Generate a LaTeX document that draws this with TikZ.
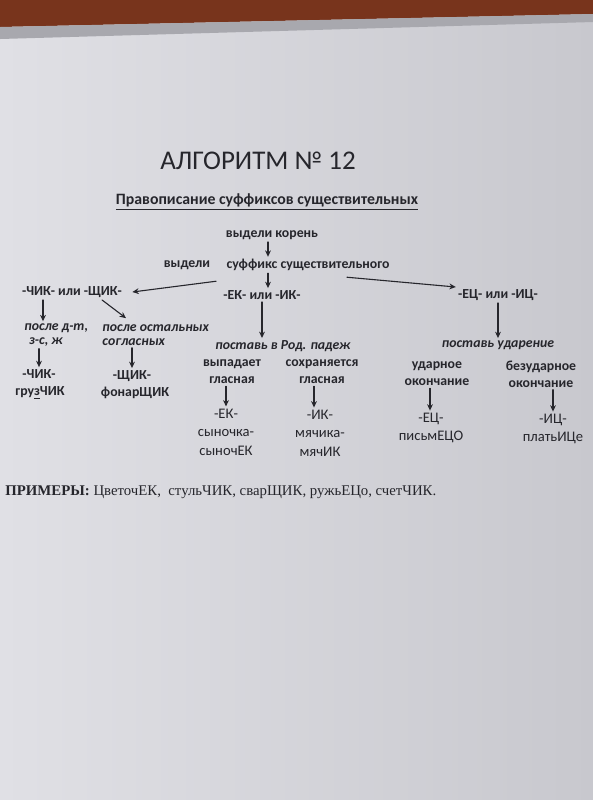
\documentclass[tikz,border=0pt]{standalone}
\usepackage{fontspec}
\setmainfont{Carlito}
\newfontfamily\timesfont{Liberation Serif}
\usepackage{tikz}
\usetikzlibrary{arrows.meta}
\definecolor{ink}{RGB}{38,38,44}
\definecolor{paperl}{RGB}{224,224,229}
\definecolor{paperr}{RGB}{200,200,206}
\definecolor{wood}{RGB}{120,52,28}
\definecolor{sleeve}{RGB}{168,168,174}

\begin{document}
\begin{tikzpicture}[line cap=round,line join=round,>={Stealth[length=3.2pt,width=2.9pt]},x=0.5pt,y=-0.5pt,
  txt/.style={color=ink,inner sep=1pt,font=\fontsize{6.9}{8.5}\selectfont\bfseries},
  leaf/.style={color=ink,inner sep=1pt,align=center,font=\fontsize{7.3}{9.2}\selectfont},
  rule/.style={color=ink,inner sep=1pt,font=\fontsize{6.9}{7}\selectfont\bfseries\itshape},
  arr/.style={->,color=ink,line width=0.55pt}]
\useasboundingbox (0,0) rectangle (593,800);
%\clip (0,0) rectangle (593,800);
\shade [left color=paperl,right color=paperr] (0,0) rectangle (593,800);
\fill [wood] (0,0)-- (593,0)-- (593,14)-- (0,27)-- cycle;
\fill [sleeve] (0,27)-- (593,14)-- (593,22)-- (0,39)-- cycle;
% header
\node[color=ink,inner sep=1pt,font=\fontsize{13.5}{14}\selectfont] (title) at (258,161) {АЛГОРИТМ № 12};
\node[txt,font=\fontsize{7.9}{9}\selectfont\bfseries] (sub) at (267,202) {\underline{Правописание суффиксов существительных}};
\node[txt] (kor) at (272,235) {выдели корень};
\node[txt] (vyd) at (187,265) {выдели};
\node[txt] (suff) at (308,265) {суффикс существительного};
% three suffix groups
\node[txt] (chik) at (72,292) {-ЧИК- или -ЩИК-};
\node[txt] (ek) at (262,295) {-ЕК- или -ИК-};
\node[txt] (ec) at (498,295) {-ЕЦ- или -ИЦ-};
\draw [arr] ([xshift=-2pt]kor.south)-- ([xshift=-2pt]kor.south |- suff.north);
\draw [arr] ([xshift=3pt]ek.north |- suff.south)-- ([xshift=3pt]ek.north);
\draw [arr] ([xshift=-4pt,yshift=-4pt]suff.south west)-- ([xshift=4pt]chik.east);
\draw [arr] ([xshift=19.5pt,yshift=-2pt]suff.south)-- ([yshift=4pt]ec.west);
% -ЧИК- / -ЩИК-
\node[rule,align=left,anchor=west] (posle1) at (22,335) {после д-т,\\\,\,з-с, ж};
\node[rule,align=left,anchor=west] (posle2) at (100,335) {после остальных\\согласных};
\draw [arr] ([xshift=-14.5pt]chik.south)-- ([xshift=-14.5pt]chik.south |- posle1.north);
\draw [arr] ([xshift=15pt]chik.south)-- ([xshift=13pt,yshift=2pt]posle2.north west);
\node[txt] (chik2) at (39,374) {-ЧИК-};
\node[txt] (gruz) at (40,393) {гру\underline{з}ЧИК};
\node[txt] (shik2) at (132,376) {-ЩИК-};
\node[txt] (fonar) at (135,393) {фонарЩИК};
\draw [arr] (chik2.north |- posle1.south)-- (chik2.north);
\draw [arr] (shik2.north |- posle2.south)-- (shik2.north);
% -ЕК- / -ИК-
\node[rule] (rod) at (283,346) {поставь в Род. падеж};
\node[txt,align=center] (vyp) at (232,372) {выпадает\\гласная};
\node[txt,align=center] (sohr) at (322,372) {сохраняется\\гласная};
\draw [arr] (ek.south)-- (ek.south |- rod.north);
\node[leaf] (ek2) at (226,432) {-ЕК-\\сыночка-\\сыночЕК};
\node[leaf] (ik2) at (320,433) {-ИК-\\мячика-\\мячИК};
\draw [arr] (ek2.north |- vyp.south)-- (ek2.north);
\draw [arr] ([xshift=-3pt]ik2.north |- sohr.south)-- ([xshift=-3pt]ik2.north);
% -ЕЦ- / -ИЦ-
\node[rule] (udar) at (498,345) {поставь ударение};
\node[txt,align=center] (udn) at (437,374) {ударное\\окончание};
\node[txt,align=center] (bez) at (541,374) {безударное\\окончание};
\draw [arr] (ec.south)-- (ec.south |- udar.north);
\node[leaf] (ec2) at (431,428) {-ЕЦ-\\письмЕЦО};
\node[leaf] (ic2) at (553,429) {-ИЦ-\\платьИЦе};
\draw [arr] ([xshift=-0.5pt]ec2.north |- udn.south)-- ([xshift=-0.5pt]ec2.north);
\draw [arr] (ic2.north |- bez.south)-- (ic2.north);
% examples
\node[color=ink,inner sep=0pt,anchor=west,font=\timesfont\fontsize{7.4}{9}\selectfont] (prim) at (5,492) {\textbf{ПРИМЕРЫ:} ЦветочЕК,\ \ стульЧИК, сварЩИК, ружьЕЦо, счетЧИК.};
\end{tikzpicture}
\end{document}
